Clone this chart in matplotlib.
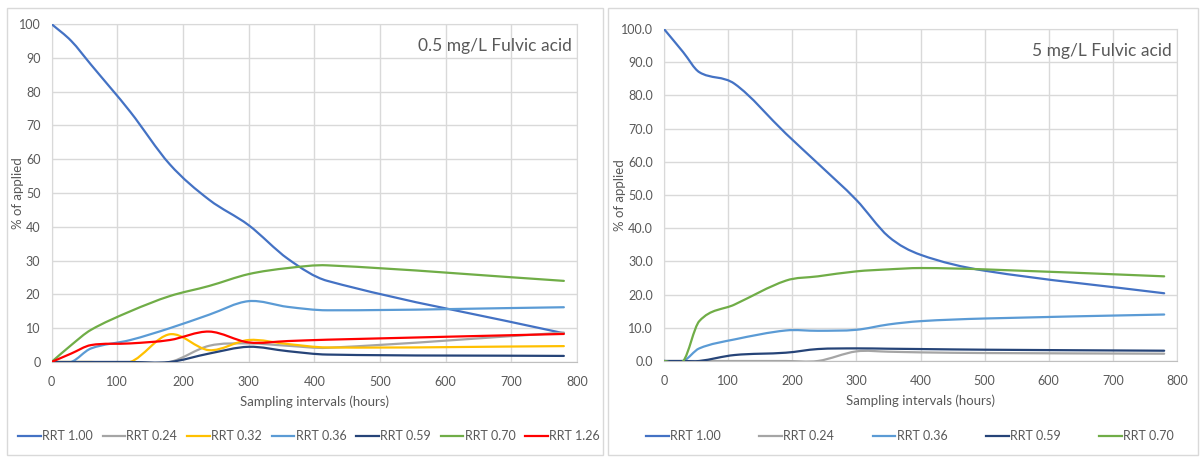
import numpy as np
import matplotlib
matplotlib.use('Agg')
import matplotlib.pyplot as plt
from matplotlib.path import Path
from matplotlib.patches import PathPatch, Rectangle
from matplotlib.lines import Line2D

plt.rcParams['font.family'] = ['Lato', 'DejaVu Sans']

# ---- data ----
hours_a = [0, 30, 60, 120, 180, 240, 300, 360, 420, 780]
rrt100_a = [100, 95, 88, 74, 58.5, 48, 40.5, 30.5, 24, 8.5]
rrt024_a = [0, 0, 0, 0, 0, 4.8, 5.5, 4.8, 4.2, 8.7]
rrt032_a = [0, 0, 0, 0, 8.2, 3.5, 6.5, 5.3, 4.3, 4.7]
rrt036_a = [0, 0, 4, 6.5, 10, 14, 18, 16.3, 15.3, 16.2]
rrt059_a = [0, 0, 0, 0, 0, 2.5, 4.5, 3.2, 2.2, 1.8]
rrt070_a = [0, 5, 9.5, 15, 19.5, 22.5, 26, 27.8, 28.6, 24]
rrt126_a = [0, 2.5, 5.0, 5.5, 6.5, 9.0, 5.8, 6.2, 6.6, 8.3]

hours_b = [0, 30, 55, 110, 190, 240, 300, 350, 400, 500, 780]
rrt100_b = [100, 93, 87, 83.5, 68.5, 59.5, 48.5, 37.5, 32, 27.2, 20.4]
rrt024_b = [0, 0, 0, 0, 0, 0, 2.9, 2.8, 2.6, 2.4, 2.2]
rrt036_b = [0, 0, 3.8, 6.5, 9.2, 9.1, 9.4, 11.0, 12.0, 12.8, 14.0]
rrt059_b = [0, 0, 0, 1.8, 2.5, 3.6, 3.8, 3.7, 3.6, 3.4, 3.1]
rrt070_b = [0, 0, 12, 17, 24.2, 25.5, 27, 27.6, 28, 27.6, 25.5]

colors = {'RRT 1.00': '#4472C4', 'RRT 0.24': '#A5A5A5', 'RRT 0.32': '#FFC000',
          'RRT 0.36': '#5B9BD5', 'RRT 0.59': '#264478', 'RRT 0.70': '#70AD47',
          'RRT 1.26': '#FF0000'}

series_a = [('RRT 1.00', rrt100_a), ('RRT 0.24', rrt024_a), ('RRT 0.32', rrt032_a),
            ('RRT 0.36', rrt036_a), ('RRT 0.59', rrt059_a), ('RRT 0.70', rrt070_a),
            ('RRT 1.26', rrt126_a)]
series_b = [('RRT 1.00', rrt100_b), ('RRT 0.24', rrt024_b), ('RRT 0.36', rrt036_b),
            ('RRT 0.59', rrt059_b), ('RRT 0.70', rrt070_b)]

text_col = '#595959'
grid_col = '#D9D9D9'
lw = 1.6


# smoothed line (cubic bezier through the points, tangents from neighbours)
def smooth_line(ax, x, y, color):
    x = np.asarray(x, float)
    y = np.asarray(y, float)
    n = len(x)
    m = np.zeros(n)
    m[0] = (y[1] - y[0]) / (x[1] - x[0])
    m[-1] = (y[-1] - y[-2]) / (x[-1] - x[-2])
    m[1:-1] = (y[2:] - y[:-2]) / (x[2:] - x[:-2])
    verts = [(x[0], y[0])]
    codes = [Path.MOVETO]
    for i in range(n - 1):
        h = (x[i + 1] - x[i]) / 3.0
        verts += [(x[i] + h, y[i] + m[i] * h),
                  (x[i + 1] - h, y[i + 1] - m[i + 1] * h),
                  (x[i + 1], y[i + 1])]
        codes += [Path.CURVE4] * 3
    patch = PathPatch(Path(verts, codes), fill=False, edgecolor=color, lw=lw,
                      capstyle='round', joinstyle='round', zorder=3)
    ax.add_patch(patch)


def setup(ax, title, fmt, ylab_x):
    ax.set_xlim(0, 800)
    ax.set_ylim(0, 100)
    ax.set_xticks(range(0, 801, 100))
    ax.set_yticks(range(0, 101, 10))
    ax.set_yticklabels([fmt.format(v) for v in range(0, 101, 10)])
    ax.grid(True, color=grid_col, lw=1)
    ax.set_axisbelow(True)
    for s in ax.spines.values():
        s.set_color(grid_col)
    ax.spines['bottom'].set_color('#BFBFBF')
    ax.tick_params(length=0, labelsize=9, colors=text_col)
    ax.tick_params(axis='x', pad=10)
    ax.tick_params(axis='y', pad=8)
    ax.set_xlabel('Sampling intervals (hours)', fontsize=9.5, color=text_col)
    ax.set_ylabel('% of applied', fontsize=9.5, color=text_col)
    ax.xaxis.set_label_coords(0.5, -0.1)
    ax.yaxis.set_label_coords(ylab_x, 0.5)
    ax.text(0.99, 0.935, title, transform=ax.transAxes, ha='right', va='center',
            fontsize=12.5, color=text_col)


fig = plt.figure(figsize=(12.03, 4.57), dpi=100)

# outer chart boxes
fig.patches.append(Rectangle((7 / 1203, 2 / 457), 596 / 1203, 447 / 457, transform=fig.transFigure,
                             fill=False, edgecolor=grid_col, lw=1))
fig.patches.append(Rectangle((608 / 1203, 2 / 457), 590 / 1203, 447 / 457, transform=fig.transFigure,
                             fill=False, edgecolor=grid_col, lw=1))

ax1 = fig.add_axes([51.5 / 1203, 95 / 457, 525.5 / 1203, 338 / 457])
ax2 = fig.add_axes([664 / 1203, 96 / 457, 513 / 1203, 332 / 457])

for name, vals in series_a:
    smooth_line(ax1, hours_a, vals, colors[name])
for name, vals in series_b:
    smooth_line(ax2, hours_b, vals, colors[name])

setup(ax1, '0.5 mg/L Fulvic acid', '{:d}', -0.052)
setup(ax2, '5 mg/L Fulvic acid', '{:.1f}', -0.074)

h1 = [Line2D([], [], color=colors[n], lw=lw) for n, _ in series_a]
h2 = [Line2D([], [], color=colors[n], lw=lw) for n, _ in series_b]
fig.legend(h1, [n for n, _ in series_a], loc='center', bbox_to_anchor=(309 / 1203, 21 / 457),
           ncol=7, frameon=False, fontsize=9, labelcolor=text_col, handlelength=1.8,
           handletextpad=0.1, columnspacing=0.8)
fig.legend(h2, [n for n, _ in series_b], loc='center', bbox_to_anchor=(910 / 1203, 21 / 457),
           ncol=5, frameon=False, fontsize=9, labelcolor=text_col, handlelength=1.8,
           handletextpad=0.1, columnspacing=3.1)

fig.savefig('out.png', dpi=100)
